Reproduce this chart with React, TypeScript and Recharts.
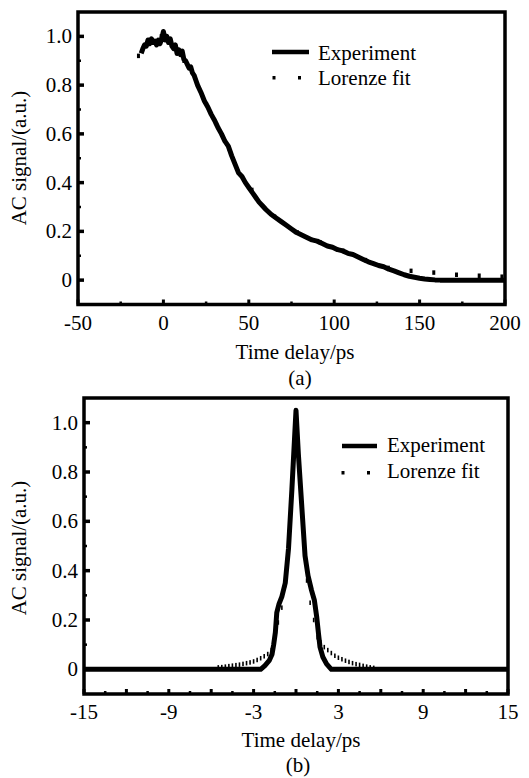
import React from "react";
import { ComposedChart, Line, XAxis, YAxis, ReferenceArea } from "recharts";

// (a) long-delay scan: [delay ps, signal]
const expA: [number, number][] = [
  [-13, 0.93], [-12, 0.95], [-11, 0.965], [-10, 0.96], [-9, 0.985], [-8, 0.97], [-7, 0.99],
  [-6, 0.975], [-5, 0.98], [-4, 0.965], [-3, 0.985], [-2, 0.97], [-1, 0.99], [0, 1.02],
  [1, 0.985], [2, 1.0], [3, 0.975], [4, 0.99], [5, 0.96], [6, 0.95], [7, 0.965], [8, 0.93],
  [9, 0.945], [10, 0.925], [11, 0.94], [12, 0.905], [13, 0.9], [14, 0.885], [15, 0.87],
  [16, 0.875], [17, 0.85], [18, 0.84], [19, 0.82], [20, 0.8], [22, 0.77], [24, 0.735],
  [26, 0.71], [28, 0.68], [30, 0.655], [31, 0.64], [32, 0.625], [34, 0.6], [36, 0.57],
  [38, 0.55], [40, 0.51], [42, 0.475], [44, 0.44], [46, 0.425], [48, 0.4], [50, 0.38],
  [52, 0.36], [54, 0.34], [56, 0.32], [58, 0.305], [60, 0.29], [63, 0.27], [66, 0.255],
  [69, 0.24], [72, 0.225], [75, 0.21], [78, 0.195], [81, 0.185], [84, 0.175], [87, 0.165],
  [90, 0.16], [93, 0.15], [96, 0.14], [99, 0.135], [102, 0.125], [105, 0.12], [108, 0.11],
  [111, 0.105], [114, 0.095], [117, 0.085], [120, 0.075], [123, 0.068], [126, 0.06],
  [129, 0.055], [132, 0.045], [135, 0.038], [138, 0.03], [141, 0.022], [144, 0.016],
  [147, 0.012], [150, 0.008], [153, 0.005], [156, 0.003], [159, 0.001], [162, 0],
  [170, 0], [180, 0], [190, 0], [200, 0],
];
const fitA: [number, number][] = [
  [-14.6, 0.92], [-1.3, 1.0], [12, 0.9], [25.3, 0.72], [38.6, 0.54], [51.9, 0.37],
  [65.2, 0.26], [78.5, 0.195], [91.8, 0.155], [105.1, 0.12], [118.4, 0.082], [131.7, 0.05],
  [145, 0.038], [158.3, 0.031], [171.6, 0.022], [184.9, 0.018], [198.2, 0.014],
];

// (b) short-delay scan
const expB: [number, number][] = [
  [-15, 0], [-2.5, 0], [-2.2, 0.015], [-1.9, 0.035], [-1.7, 0.06], [-1.58, 0.1],
  [-1.46, 0.15], [-1.36, 0.23], [-1.2, 0.265], [-1.0, 0.295], [-0.76, 0.35], [-0.53, 0.49],
  [-0.29, 0.73], [0, 1.05], [0.17, 0.87], [0.41, 0.66], [0.64, 0.46], [0.85, 0.38],
  [1.1, 0.32], [1.3, 0.28], [1.46, 0.215], [1.6, 0.14], [1.7, 0.09], [1.9, 0.05],
  [2.16, 0.022], [2.5, 0], [15, 0],
];
const fitB: [number, number][] = [
  [-5.5, 0.008], [-5.25, 0.009], [-5, 0.011], [-4.75, 0.013], [-4.5, 0.015], [-4.25, 0.017],
  [-4, 0.019], [-3.75, 0.022], [-3.5, 0.025], [-3.25, 0.028], [-3, 0.032], [-2.75, 0.038],
  [-2.5, 0.045], [-2.25, 0.053], [-2, 0.062], [-1.75, 0.078], [-1.5, 0.11], [-1.25, 0.19],
  [-1, 0.25], [-0.75, 0.34], [-0.5, 0.5], [-0.25, 0.75], [0, 1.0], [0.25, 0.76], [0.5, 0.52],
  [0.75, 0.36], [1, 0.27], [1.25, 0.2], [1.5, 0.13], [1.75, 0.11], [2, 0.09], [2.25, 0.078],
  [2.5, 0.066], [2.75, 0.055], [3, 0.047], [3.25, 0.041], [3.5, 0.035], [3.75, 0.03],
  [4, 0.025], [4.25, 0.021], [4.5, 0.018], [4.75, 0.014], [5, 0.011], [5.25, 0.008], [5.5, 0.006],
];

const yTicks = [0, 0.1, 0.2, 0.3, 0.4, 0.5, 0.6, 0.7, 0.8, 0.9, 1.0];
const yLabels = [0, 0.2, 0.4, 0.6, 0.8, 1.0];
const aXTicks = [-50, -25, 0, 25, 50, 75, 100, 125, 150, 175, 200];
const aXLabels = [-50, 0, 50, 100, 150, 200];
const bXTicks = [-15, -13.5, -12, -10.5, -9, -7.5, -6, -4.5, -3, -1.5, 0, 1.5, 3, 4.5, 6, 7.5, 9, 10.5, 12, 13.5, 15];
const bXLabels = [-15, -9, -3, 3, 9, 15];

const FONT = "'Liberation Serif', 'Times New Roman', serif";
const toRows = (pts: [number, number][]) => pts.map(([x, y]) => ({ x, y }));

const fmtY = (v: number) => (v === 0 ? "0" : v.toFixed(1));

const xTick = (labels: number[], isMajor: (v: number) => boolean) => (p: any) => {
  const v = p.payload.value;
  const big = isMajor(v);
  return (
    <g>
      <line x1={p.x} x2={p.x} y1={p.y} y2={p.y - (big ? 5 : 3)} stroke="#000" strokeWidth={big ? 3 : 2.5} />
      {labels.includes(v) && (
        <text x={p.x} y={p.y + 18} textAnchor="middle" dominantBaseline="central"
          style={{ fontFamily: FONT }} fontSize={21} fill="#000">
          {String(v)}
        </text>
      )}
    </g>
  );
};

const yTick = (p: any) => {
  const v = p.payload.value;
  const big = yLabels.some((l) => Math.abs(l - v) < 1e-6);
  return (
    <g>
      <line x1={p.x} x2={p.x + (big ? 6 : 3)} y1={p.y} y2={p.y} stroke="#000" strokeWidth={big ? 3.5 : 2.5} />
      {big && (
        <text x={p.x - 6} y={p.y} textAnchor="end" dominantBaseline="central"
          style={{ fontFamily: FONT }} fontSize={21} fill="#000">
          {fmtY(v)}
        </text>
      )}
    </g>
  );
};

const fitDot = (w: number, h: number) => (p: any) => (
  <rect key={`d${p.index}`} x={p.cx - w / 2} y={p.cy - h / 2} width={w} height={h} fill="#000" />
);

type PanelProps = {
  exp: [number, number][];
  fit: [number, number][];
  xDomain: [number, number];
  xTicks: number[];
  xLabels: number[];
  isMajor: (v: number) => boolean;
  margin: { top: number; right: number; bottom: number; left: number };
  dot: [number, number];
};

const Panel = ({ exp, fit, xDomain, xTicks, xLabels, isMajor, margin, dot }: PanelProps) => (
  <ComposedChart width={529} height={390} margin={margin}>
    <XAxis type="number" dataKey="x" domain={xDomain} ticks={xTicks} interval={0}
      axisLine={false} tickLine={false} tickSize={0} tickMargin={0}
      tick={xTick(xLabels, isMajor)} allowDataOverflow />
    <YAxis type="number" dataKey="y" domain={[-0.1, 1.1]} ticks={yTicks} interval={0}
      axisLine={false} tickLine={false} tickSize={0} tickMargin={0}
      tick={yTick} allowDataOverflow />
    <Line data={toRows(fit)} dataKey="y" stroke="none" dot={fitDot(dot[0], dot[1])}
      activeDot={false} isAnimationActive={false} />
    <Line data={toRows(exp)} dataKey="y" type="linear" stroke="#000" strokeWidth={5}
      strokeLinejoin="round" dot={false} activeDot={false} isAnimationActive={false} />
    <ReferenceArea x1={xDomain[0]} x2={xDomain[1]} y1={-0.1} y2={1.1}
      fill="none" stroke="#000" strokeWidth={3.5} />
  </ComposedChart>
);

const textStyle = { style: { fontFamily: FONT }, fontSize: 21, fill: "#000" };

export default function App() {
  return (
    <div style={{ position: "absolute", left: 0, top: 0, width: 529, height: 778, background: "#fff" }}>
      <div style={{ position: "absolute", left: 0, top: 0 }}>
        <Panel exp={expA} fit={fitA} xDomain={[-50, 200]} xTicks={aXTicks} xLabels={aXLabels}
          isMajor={(v) => v % 50 === 0}
          margin={{ top: 12, right: 24, bottom: 55.5, left: 18 }} dot={[3, 4.5]} />
      </div>
      <div style={{ position: "absolute", left: 0, top: 390 }}>
        <Panel exp={expB} fit={fitB} xDomain={[-15, 15]} xTicks={bXTicks} xLabels={bXLabels}
          isMajor={(v) => v % 3 === 0}
          margin={{ top: 8, right: 21, bottom: 56, left: 24 }} dot={[1.6, 4.5]} />
      </div>
      <svg width={529} height={778} style={{ position: "absolute", left: 0, top: 0, pointerEvents: "none" }}>
        {/* panel (a) titles + legend */}
        <text x={295} y={359} textAnchor="middle" {...textStyle}>Time delay/ps</text>
        <text x={300} y={385} textAnchor="middle" {...textStyle}>(a)</text>
        <text transform="translate(26,158) rotate(-90)" textAnchor="middle" {...textStyle}>AC signal/(a.u.)</text>
        <line x1={272} x2={309} y1={52} y2={52} stroke="#000" strokeWidth={4.3} />
        <text x={318} y={60} {...textStyle}>Experiment</text>
        <rect x={272.5} y={76} width={3} height={3.5} fill="#000" />
        <rect x={298} y={76} width={3} height={3.5} fill="#000" />
        <text x={318} y={85} {...textStyle}>Lorenze fit</text>

        {/* panel (b) titles + legend */}
        <text x={301} y={747} textAnchor="middle" {...textStyle}>Time delay/ps</text>
        <text x={298} y={772} textAnchor="middle" {...textStyle}>(b)</text>
        <text transform="translate(26,548) rotate(-90)" textAnchor="middle" {...textStyle}>AC signal/(a.u.)</text>
        <line x1={342} x2={377} y1={446} y2={446} stroke="#000" strokeWidth={4.3} />
        <text x={387} y={452} {...textStyle}>Experiment</text>
        <rect x={341.5} y={471} width={3} height={3.5} fill="#000" />
        <rect x={367} y={471} width={3} height={3.5} fill="#000" />
        <text x={387} y={478} {...textStyle}>Lorenze fit</text>
      </svg>
    </div>
  );
}
